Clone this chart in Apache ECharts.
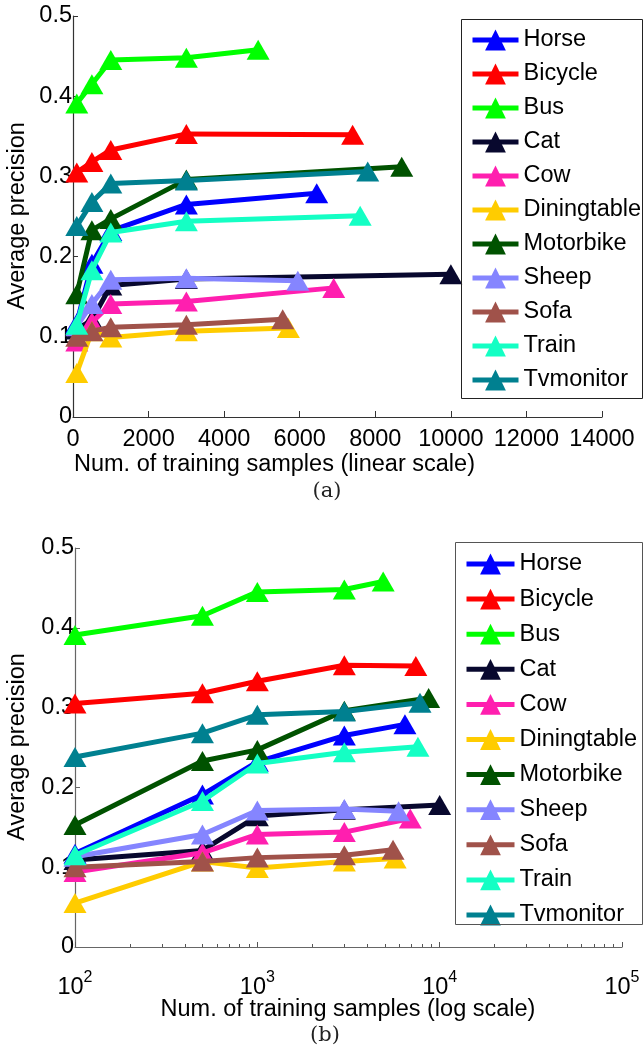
<!DOCTYPE html>
<html>
<head>
<meta charset="utf-8">
<script src="https://cdn.jsdelivr.net/npm/echarts@6/dist/echarts.min.js"></script>
<style>
html,body{margin:0;padding:0;background:#fff;}
#chart{width:643px;height:1055px;}
</style>
</head>
<body>
<div id="chart"></div>
<script>
// ---- data ----
const categories = ['Horse','Bicycle','Bus','Cat','Cow','Diningtable','Motorbike','Sheep','Sofa','Train','Tvmonitor'];
const sampleSteps = [100, 500, 1000, 3000];
const maxSamples = [6450, 7400, 4900, 10000, 6900, 5700, 8700, 5950, 5550, 7600, 7800];
const horse       = [0.117, 0.191, 0.232, 0.265, 0.279];
const bicycle     = [0.305, 0.318, 0.333, 0.353, 0.352];
const bus         = [0.391, 0.415, 0.445, 0.448, 0.458];
const cat         = [0.109, 0.121, 0.164, 0.172, 0.178];
const cow         = [0.094, 0.118, 0.141, 0.144, 0.161];
const diningtable = [0.055, 0.107, 0.099, 0.107, 0.111];
const motorbike   = [0.153, 0.233, 0.247, 0.296, 0.312];
const sheep       = [0.113, 0.141, 0.171, 0.173, 0.170];
const sofa        = [0.100, 0.107, 0.112, 0.115, 0.122];
const train       = [0.115, 0.183, 0.230, 0.244, 0.251];
const tvmonitor   = [0.238, 0.268, 0.291, 0.295, 0.306];
const linearTicks = [0, 2000, 4000, 6000, 8000, 10000, 12000, 14000];
const logTicks = [100, 1000, 10000, 100000];
const yTicks = [0, 0.1, 0.2, 0.3, 0.4, 0.5];

const allValues = [horse, bicycle, bus, cat, cow, diningtable, motorbike, sheep, sofa, train, tvmonitor];
const seriesColors = ['#0000FF','#FF0000','#00FF00','#08082E','#FF1FAF','#FFCC00','#005200','#8585FF','#A0524A','#14FFC4','#008090'];

// ---- chart ----
const FONT = '"Liberation Sans", Arial, Helvetica, sans-serif';
const FS = 23.5;
const chart = echarts.init(document.getElementById('chart'), null, {renderer: 'canvas'});

function buildSeries(gridIdx) {
  return categories.map((name, i) => ({
    name: name,
    type: 'line',
    xAxisIndex: gridIdx,
    yAxisIndex: gridIdx,
    data: sampleSteps.concat([maxSamples[i]]).map((x, j) => [x, allValues[i][j]]),
    symbol: 'triangle',
    symbolSize: [23, 20],
    showAllSymbol: true,
    lineStyle: {width: 5, color: seriesColors[i]},
    itemStyle: {color: seriesColors[i], borderWidth: 0},
    emphasis: {disabled: true},
    z: 2 + i * 0.01,
    animation: false
  }));
}

function yAxisCfg(gridIdx, axisColor) {
  return {
    type: 'value', gridIndex: gridIdx, min: yTicks[0], max: yTicks[yTicks.length - 1], interval: 0.1,
    axisLine: {show: true, lineStyle: {color: axisColor, width: 1.2}},
    axisTick: {show: true, inside: true, length: 5, lineStyle: {color: axisColor}},
    axisLabel: {margin: 1, color: '#000', fontSize: FS, fontFamily: FONT,
      formatter: v => (v === 0 ? '0' : v.toFixed(1))},
    splitLine: {show: false}
  };
}

const legendBase = {
  orient: 'vertical',
  data: categories,
  itemWidth: 46,
  itemHeight: 26,
  itemTextGap: 6,
  selectedMode: false,
  lineStyle: {width: 5},
  textStyle: {color: '#000', fontSize: FS, fontFamily: FONT, lineHeight: 24},
  padding: 0
};

const option = {
  backgroundColor: '#fff',
  animation: false,
  color: seriesColors,
  grid: [
    {left: 73, top: 16, width: 529, height: 401, containLabel: false},
    {left: 75, top: 548, width: 547, height: 399, containLabel: false}
  ],
  xAxis: [
    {
      type: 'value', gridIndex: 0, min: linearTicks[0], max: linearTicks[linearTicks.length - 1], interval: 2000,
      axisLine: {show: true, onZero: false, lineStyle: {color: '#333', width: 1.2}},
      axisTick: {show: true, inside: true, length: 6, lineStyle: {color: '#333'}},
      axisLabel: {margin: 11, color: '#000', fontSize: FS, fontFamily: FONT, formatter: v => String(v)},
      splitLine: {show: false}
    },
    {
      type: 'log', gridIndex: 1, logBase: 10, min: logTicks[0], max: logTicks[logTicks.length - 1],
      axisLine: {show: true, onZero: false, lineStyle: {color: '#666', width: 1.2}},
      axisTick: {show: true, inside: true, length: 5, lineStyle: {color: '#555'}},
      minorTick: {show: true, splitNumber: 9, length: 3, lineStyle: {color: '#555'}},
      axisLabel: {
        margin: 23,
        formatter: v => '{b|10}{s|' + Math.round(Math.log10(v)) + '}',
        rich: {
          b: {fontSize: FS, fontFamily: FONT, color: '#000', lineHeight: 30, verticalAlign: 'bottom'},
          s: {fontSize: 16, fontFamily: FONT, color: '#000', lineHeight: 16, verticalAlign: 'top'}
        }
      },
      splitLine: {show: false}
    }
  ],
  yAxis: [yAxisCfg(0, '#333'), yAxisCfg(1, '#666')],
  legend: [
    Object.assign({}, legendBase, {left: 470, top: 28, itemGap: 10}),
    Object.assign({}, legendBase, {left: 464, top: 552, itemWidth: 48, itemTextGap: 5, itemGap: 11.1})
  ],
  graphic: [
    {type: 'rect', shape: {x: 461.5, y: 19.5, width: 181, height: 379}, style: {fill: 'none', stroke: '#222', lineWidth: 1}, z: 100, silent: true},
    {type: 'rect', shape: {x: 455.5, y: 542.5, width: 187, height: 382}, style: {fill: 'none', stroke: '#555', lineWidth: 1}, z: 100, silent: true},
    {type: 'text', x: 18, y: 216, rotation: Math.PI / 2, style: {text: 'Average precision', fontSize: FS, fontFamily: FONT, fill: '#000', align: 'center', verticalAlign: 'middle'}},
    {type: 'text', x: 74, y: 465, style: {text: 'Num. of training samples (linear scale)', fontSize: FS, fontFamily: FONT, fill: '#000', align: 'left', verticalAlign: 'middle'}},
    {type: 'text', x: 327, y: 492, style: {text: '(a)', fontSize: 21, fontFamily: '"DejaVu Serif", "Liberation Serif", serif', fill: '#222', align: 'center', verticalAlign: 'middle'}},
    {type: 'text', x: 18, y: 747, rotation: Math.PI / 2, style: {text: 'Average precision', fontSize: FS, fontFamily: FONT, fill: '#000', align: 'center', verticalAlign: 'middle'}},
    {type: 'text', x: 348, y: 1010, style: {text: 'Num. of training samples (log scale)', fontSize: FS, fontFamily: FONT, fill: '#000', align: 'center', verticalAlign: 'middle'}},
    {type: 'text', x: 325, y: 1036, style: {text: '(b)', fontSize: 21, fontFamily: '"DejaVu Serif", "Liberation Serif", serif', fill: '#222', align: 'center', verticalAlign: 'middle'}}
  ],
  series: buildSeries(0).concat(buildSeries(1))
};
chart.setOption(option);
</script>
</body>
</html>
